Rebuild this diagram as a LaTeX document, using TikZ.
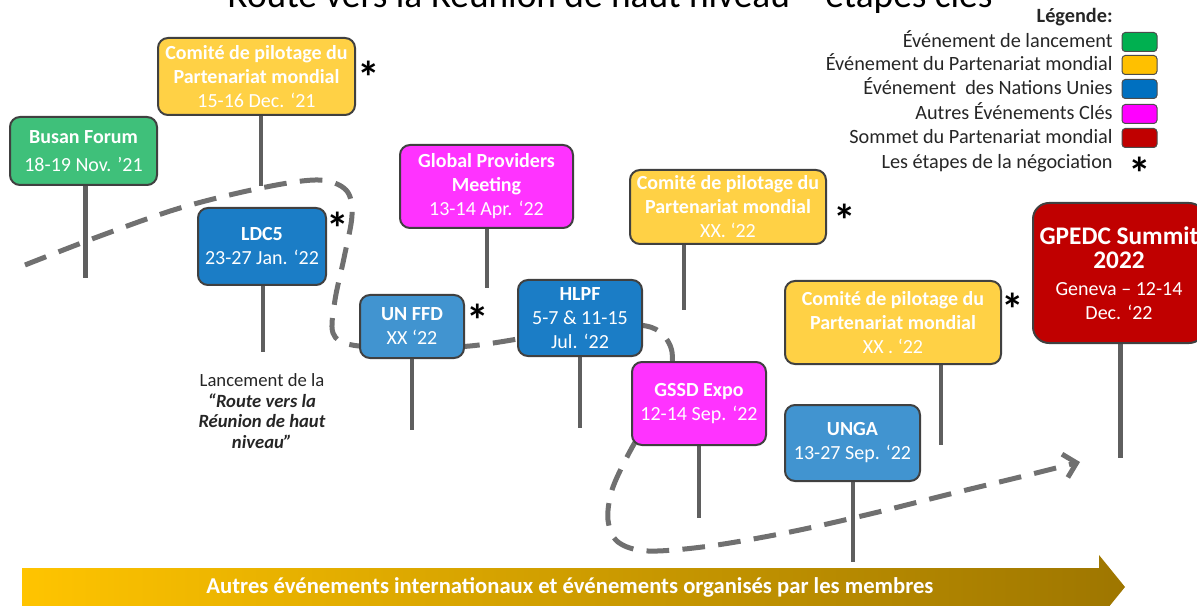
\documentclass[tikz,border=0pt]{standalone}
\usepackage{fontspec}
\setmainfont{Carlito}
\usepackage{tikz}
\usepackage{xcolor}
\usetikzlibrary{arrows.meta,backgrounds}

\definecolor{lancement}{HTML}{3FC07A}
\definecolor{partenariat}{HTML}{FFD145}
\definecolor{onu}{HTML}{1B7DC6}
\definecolor{onuclair}{HTML}{4194D0}
\definecolor{autres}{HTML}{FF33FF}
\definecolor{sommet}{HTML}{C00000}
\definecolor{trait}{HTML}{5F5F5F}
\definecolor{chemin}{HTML}{707070}
\definecolor{legvert}{HTML}{00B050}
\definecolor{legjaune}{HTML}{FFC000}
\definecolor{legbleu}{HTML}{0070C0}
\definecolor{legrose}{HTML}{FF00FF}
\definecolor{flecheA}{HTML}{FFC400}
\definecolor{flecheB}{HTML}{9E7600}

\newcommand{\grandgras}[1]{\textbf{\fontsize{19}{22.5}\selectfont #1}}

\begin{document}
\begin{tikzpicture}[x=0.75pt, y=-0.75pt, semithick, align=center,
    font=\fontsize{15}{18}\selectfont]

    \tikzstyle{event}=[draw=black!75, line width=1.5pt, rounded corners=7.5pt, text=white, inner sep=1pt]
    \tikzstyle{stem}=[draw=trait, line width=3pt]
    \tikzstyle{route}=[draw=chemin, line width=3.75pt, dash pattern=on 17pt off 10pt]
    \tikzstyle{etape}=[font=\bfseries\fontsize{34}{34}\selectfont, inner sep=0pt]
    \tikzstyle{swatch}=[draw=black!70, line width=0.75pt, rounded corners=2.5pt, minimum width=26.25pt, minimum height=14.25pt, inner sep=0pt]
    \tikzstyle{legtext}=[anchor=base east, text=black!85, font=\fontsize{15.2}{18}\selectfont, inner sep=0pt]

    \useasboundingbox (0,0) rectangle (1197,606);

    % titre (coupe en haut)
    \node[anchor=base, font=\fontsize{28}{32}\selectfont] (titre) at (610,8) {Route vers la Réunion de haut niveau – étapes clés};

    % evenements
    \node[event, fill=lancement, minimum width=110.25pt, minimum height=51pt] (busan) at (83.5,151)
        {\textbf{Busan Forum}\\[3pt]18-19 Nov. ’21};
    \node[event, fill=partenariat, minimum width=147.75pt, minimum height=57.75pt] (comite1) at (256.5,76.5)
        {\textbf{Comité de pilotage du}\\\textbf{Partenariat mondial}\\15-16 Dec. ‘21};
    \node[event, fill=onu, minimum width=96pt, minimum height=57.75pt] (ldc) at (262,246.5)
        {\textbf{LDC5}\\23-27 Jan. ‘22};
    \node[event, fill=autres, minimum width=129.75pt, minimum height=62.25pt] (gpm) at (486.5,186.5)
        {\textbf{Global Providers}\\\textbf{Meeting}\\13-14 Apr. ‘22};
    \node[event, fill=onuclair, minimum width=78pt, minimum height=47.25pt] (ffd) at (412,326.5)
        {\textbf{UN FFD}\\XX ‘22};
    \node[event, fill=onu, minimum width=93pt, minimum height=57pt] (hlpf) at (580,318)
        {\textbf{HLPF}\\5-7 \& 11-15\\Jul. ‘22};
    \node[event, fill=partenariat, minimum width=147pt, minimum height=55.5pt] (comite2) at (728,207)
        {\textbf{Comité de pilotage du}\\\textbf{Partenariat mondial}\\XX. ‘22};
    \node[event, fill=autres, minimum width=100.5pt, minimum height=62.25pt] (gssd) at (699,403.5)
        {\textbf{GSSD Expo}\\12-14 Sep. ‘22};
    \node[event, fill=partenariat, minimum width=162pt, minimum height=62.25pt] (comite3) at (893,322.5)
        {\textbf{Comité de pilotage du}\\\textbf{Partenariat mondial}\\XX . ‘22};
    \node[event, fill=onuclair, minimum width=101.25pt, minimum height=57pt] (unga) at (852.5,443)
        {\textbf{UNGA}\\13-27 Sep. ‘22};
    \node[event, fill=sommet, rounded corners=12pt, minimum width=129pt, minimum height=105pt] (sommet) at (1119,273)
        {\grandgras{GPEDC Summit}\\\grandgras{2022}\\[2pt]Geneva – 12-14\\Dec. ‘22};

    % etapes de la negociation
    \node[etape] (e1) at (369,77) {*};
    \node[etape] (e2) at (338,228) {*};
    \node[etape] (e3) at (478,320) {*};
    \node[etape] (e4) at (845,220) {*};
    \node[etape] (e5) at (1013,309) {*};

    \node[font=\fontsize{14}{15.4}\selectfont, text=black!85] (lancement) at (262,411)
        {Lancement de la\\\textbf{\textit{“Route vers la}}\\\textbf{\textit{Réunion de haut}}\\\textbf{\textit{niveau”}}};

    % legende
    \node[legtext, font=\bfseries\fontsize{15.2}{18}\selectfont] (legende) at (1113,23) {Légende:};
    \node[legtext] (leg1) at (1113,48) {Événement de lancement};
    \node[legtext] (leg2) at (1113,71) {Événement du Partenariat mondial};
    \node[legtext] (leg3) at (1113,95) {Événement\ \ des Nations Unies};
    \node[legtext] (leg4) at (1113,120) {Autres Événements Clés};
    \node[legtext] (leg5) at (1113,144) {Sommet du Partenariat mondial};
    \node[legtext] (leg6) at (1113,169) {Les étapes de la négociation};
    \node[swatch, fill=legvert]  (sw1) at (1139.5,42) {};
    \node[swatch, fill=legjaune] (sw2) at (1139.5,65) {};
    \node[swatch, fill=legbleu]  (sw3) at (1139.5,89) {};
    \node[swatch, fill=legrose]  (sw4) at (1139.5,114) {};
    \node[swatch, fill=sommet]   (sw5) at (1139.5,138) {};
    \node[etape] (e6) at (1140,173) {*};

    % fleche du bas
    \shade[left color=flecheA, right color=flecheB]
        (22,568) -- (1099,568) -- (1099,555) -- (1125,587) -- (1099,619) -- (1099,606) -- (22,606) -- cycle;
    \node[text=white, font=\bfseries\fontsize{17}{20}\selectfont] (membres) at (570,587)
        {Autres événements internationaux et événements organisés par les membres};

    % pieds des evenements
    \coordinate (busan-pied)   at (85,278);
    \coordinate (comite1-pied) at (261,186);
    \coordinate (ldc-pied)     at (263,352);
    \coordinate (gpm-pied)     at (487,288);
    \coordinate (ffd-pied)     at (412,430);
    \coordinate (hlpf-pied)    at (580,428);
    \coordinate (comite2-pied) at (684,310);
    \coordinate (gssd-pied)    at (699,518);
    \coordinate (comite3-pied) at (941,445);
    \coordinate (unga-pied)    at (853,562);
    \coordinate (sommet-pied)  at (1120,458);

    \begin{pgfonlayer}{background}
    \path (busan.south -| busan-pied)     edge[stem, line width=3.75pt] (busan-pied)
          (comite1.south -| comite1-pied) edge[stem] (comite1-pied)
          (ldc.south -| ldc-pied)         edge[stem] (ldc-pied)
          (gpm.south -| gpm-pied)         edge[stem] (gpm-pied)
          (ffd.south -| ffd-pied)         edge[stem] (ffd-pied)
          (hlpf.south -| hlpf-pied)       edge[stem] (hlpf-pied)
          (comite2.south -| comite2-pied) edge[stem] (comite2-pied)
          (gssd.south -| gssd-pied)       edge[stem] (gssd-pied)
          (comite3.south -| comite3-pied) edge[stem] (comite3-pied)
          (unga.south -| unga-pied)       edge[stem] (unga-pied)
          (sommet.south -| sommet-pied)   edge[stem, line width=3.75pt] (sommet-pied)
    ;

    % la route vers le sommet
    \draw[route, -{Straight Barb[length=9pt, width=18pt]}] plot[smooth, tension=0.55] coordinates {
        (25,265) (100,236) (180,208) (261,188) (318,180) (346,190) (352,215) (344,258)
        (335,300) (333,333) (352,345) (410,348) (470,346) (530,337) (590,327) (638,325)
        (660,332) (672,352) (668,385) (648,420) (628,455) (612,490) (608,520) (618,542)
        (648,551) (710,546) (790,532) (870,514) (950,494) (1020,477) (1080,462)};
    \end{pgfonlayer}
\end{tikzpicture}
\end{document}
